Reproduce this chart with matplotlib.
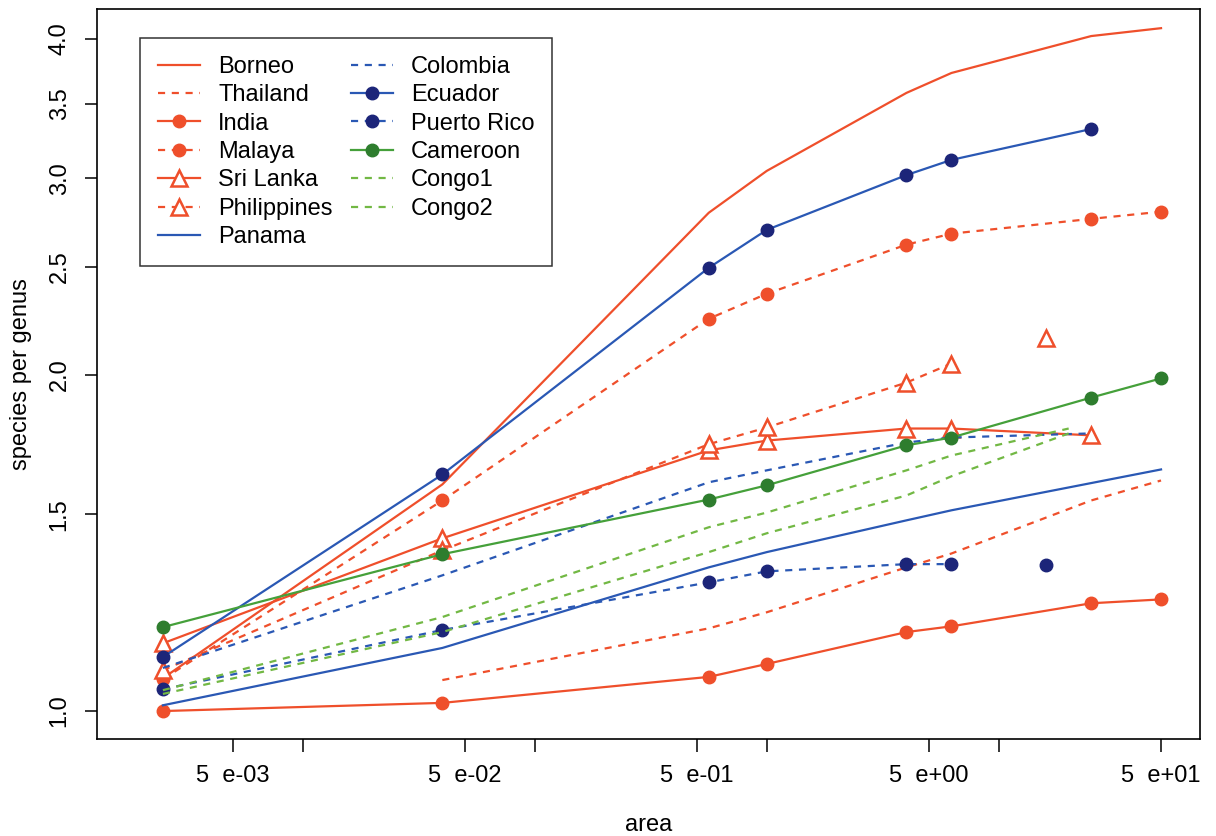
import numpy as np
import matplotlib
matplotlib.use("Agg")
import matplotlib.pyplot as plt
from matplotlib.ticker import FixedLocator, NullLocator, FixedFormatter

plt.rcParams['font.family'] = ['Liberation Sans', 'DejaVu Sans']

nan = np.nan

# plot areas (ha) and species per genus
area_full = [0.0025, 0.04, 0.5625, 1, 4, 6.25, 25, 50]
borneo = [1.070, 1.596, 2.795, 3.047, 3.579, 3.729, 4.024, 4.090]
india = [1.000, 1.017, 1.073, 1.102, 1.177, 1.191, 1.249, 1.259]
malaya = [1.068, 1.544, 2.246, 2.365, 2.617, 2.677, 2.760, 2.801]
cameroon = [1.189, 1.382, 1.547, 1.593, 1.730, 1.758, 1.909, 1.986]

area_thailand = [0.04, 0.5625, 1, 4, 6.25, 25, 50]
thailand = [1.066, 1.186, 1.226, 1.345, 1.384, 1.544, 1.609]

area_panama = [0.0025, 0.04, 0.5625, 1, 4, 6.25, 50]
panama = [1.012, 1.139, 1.345, 1.388, 1.482, 1.513, 1.646]

area_25 = [0.0025, 0.04, 0.5625, 1, 4, 6.25, 25]
ecuador = [1.118, 1.629, 2.495, 2.698, 3.021, 3.117, 3.322]
colombia = [1.093, 1.323, 1.603, 1.643, 1.740, 1.758, 1.773]
sri_lanka = [1.150, 1.428, 1.712, 1.747, 1.791, 1.791, 1.766]

# 10 ha is missing, so the 16 ha point stands alone
area_gap = [0.0025, 0.04, 0.5625, 1, 4, 6.25, 10, 16]
philippines = [1.088, 1.393, 1.734, 1.795, 1.969, 2.048, nan, 2.160]
puerto_rico = [1.046, 1.182, 1.304, 1.334, 1.354, 1.354, nan, 1.351]

area_congo = [0.0025, 0.04, 0.5625, 1, 4, 6.25, 20]
congo1 = [1.044, 1.214, 1.461, 1.506, 1.643, 1.694, 1.791]
congo2 = [1.036, 1.177, 1.388, 1.443, 1.560, 1.623, 1.773]

y_ticks = [1.0, 1.5, 2.0, 2.5, 3.0, 3.5, 4.0]
x_major = [5e-3, 5e-2, 5e-1, 5, 50]
x_labels = ["5  e-03", "5  e-02", "5  e-01", "5  e+00", "5  e+01"]
x_minor = [1e-2, 1e-1, 1, 10]

red = '#EF4F2B'
blue = '#2A58B4'
navy = '#1C2579'
green = '#45A03A'
dkgreen = '#2E7D2E'
ltgreen = '#72B844'
dash = (0, (3.2, 3))
lw = 1.6
fs = 17

fig = plt.figure(figsize=(12.16, 8.36), dpi=100)
ax = fig.add_axes([97 / 1216, 1 - 739 / 836, 1103 / 1216, 730 / 836])

# red group
ax.plot(area_full, borneo, color=red, lw=lw, label='Borneo')
ax.plot(area_thailand, thailand, color=red, lw=lw, ls=dash, label='Thailand')
ax.plot(area_full, india, color=red, lw=lw, marker='o', ms=9, label='India')
ax.plot(area_full, malaya, color=red, lw=lw, ls=dash, marker='o', ms=9, label='Malaya')
ax.plot(area_25, sri_lanka, color=red, lw=lw, marker='^', ms=11,
        mfc='white', mew=1.8, label='Sri Lanka')
ax.plot(area_gap, philippines, color=red, lw=lw, ls=dash, marker='^', ms=11,
        mfc='white', mew=1.8, label='Philippines')

# blue group
ax.plot(area_panama, panama, color=blue, lw=lw, label='Panama')
ax.plot(area_25, colombia, color=blue, lw=lw, ls=dash, label='Colombia')
ax.plot(area_25, ecuador, color=blue, lw=lw, marker='o', ms=9,
        mfc=navy, mec=navy, label='Ecuador')
ax.plot(area_gap, puerto_rico, color=blue, lw=lw, ls=dash, marker='o', ms=9,
        mfc=navy, mec=navy, label='Puerto Rico')

# green group
ax.plot(area_full, cameroon, color=green, lw=lw, marker='o', ms=9,
        mfc=dkgreen, mec=dkgreen, label='Cameroon')
ax.plot(area_congo, congo1, color=ltgreen, lw=lw, ls=dash, label='Congo1')
ax.plot(area_congo, congo2, color=ltgreen, lw=lw, ls=dash, label='Congo2')

ax.set_xscale('log')
ax.set_yscale('log')
ax.set_xlim(0.0013, 73.6)
ax.set_ylim(0.944, 4.255)

ax.xaxis.set_major_locator(FixedLocator(x_major))
ax.xaxis.set_major_formatter(FixedFormatter(x_labels))
ax.xaxis.set_minor_locator(FixedLocator(x_minor))
ax.yaxis.set_major_locator(FixedLocator(y_ticks))
ax.yaxis.set_major_formatter(FixedFormatter(["%.1f" % v for v in y_ticks]))
ax.yaxis.set_minor_locator(NullLocator())

ax.tick_params(axis='both', which='both', length=9, width=1.1, labelsize=fs, pad=10)
ax.tick_params(axis='x', which='minor', labelbottom=False)
for lab in ax.get_yticklabels():
    lab.set_rotation(90)
    lab.set_va('center')

for sp in ax.spines.values():
    sp.set_linewidth(1.2)

ax.set_xlabel('area', fontsize=fs, labelpad=19)
ax.set_ylabel('species per genus', fontsize=fs, labelpad=12)

leg = ax.legend(loc='upper left', bbox_to_anchor=(0.039, 0.96), ncol=2,
                fontsize=fs, frameon=True, fancybox=False, edgecolor='black',
                handlelength=1.8, handletextpad=0.76, columnspacing=0.76,
                labelspacing=0.27, borderpad=0.75, borderaxespad=0)
leg.get_frame().set_linewidth(1.1)

fig.savefig('out.png', dpi=100)
